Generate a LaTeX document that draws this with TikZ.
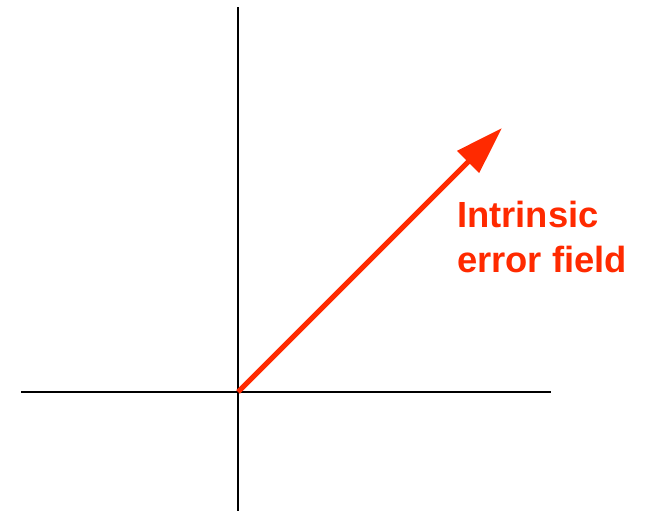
\documentclass[tikz,border=0pt]{standalone}
\usepackage{fontspec}
\setmainfont{Liberation Sans}
\usepackage{xcolor}
\usepackage{tikz}
\usetikzlibrary{arrows.meta}
\definecolor{errorred}{HTML}{FF2A00}

\begin{document}
\begin{tikzpicture}[x=1bp,y=1bp,
    axis/.style={line width=1.5bp,black},
    field/.style={line width=5bp,errorred,-{Triangle[length=48bp,width=30bp]}}]
  \useasboundingbox (0,0) rectangle (647,511);
  \coordinate (O) at (238,119);
  \coordinate (xmin) at (21,119);
  \coordinate (xmax) at (551,119);
  \coordinate (ymin) at (238,0);
  \coordinate (ymax) at (238,504);
  \coordinate (tip) at (502,383);
  \draw[axis] (xmin) -- (xmax);
  \draw[axis] (ymin) -- (ymax);
  \draw[field] (O) -- (tip);
  \node[anchor=north west,inner sep=0pt,align=left,errorred,
        font=\fontsize{36.5}{45.5}\selectfont\bfseries] (label) at (457,310)
        {Intrinsic\\error field};
\end{tikzpicture}
\end{document}
